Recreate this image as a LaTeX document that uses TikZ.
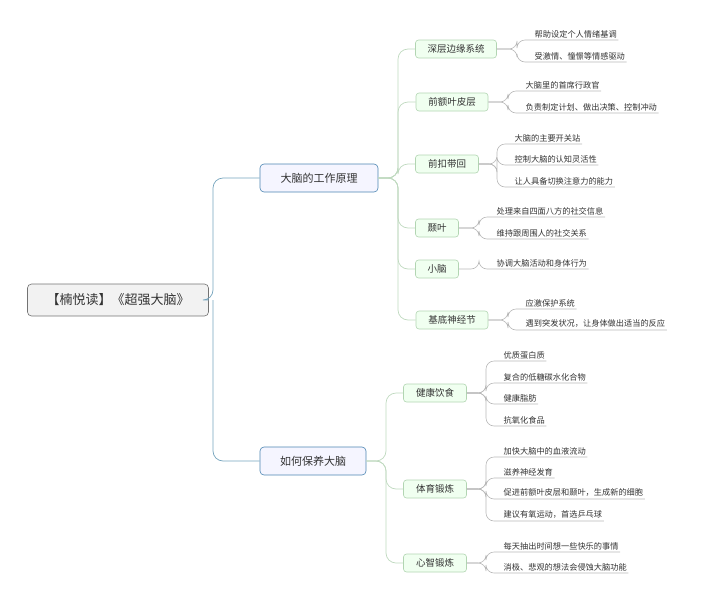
\documentclass[tikz,border=0pt]{standalone}
\usepackage{fontspec}
\setmainfont{Noto Sans CJK SC}
\begin{document}
\begin{tikzpicture}[x=1pt,y=-1pt,
  rootbox/.style={draw=black!55,fill=black!5,rounded corners=4pt,minimum width=181pt,minimum height=32pt,font=\fontsize{13}{15}\selectfont,text=black!80,line width=0.6pt},
  lvone/.style={draw=blue!45!cyan!40!gray,fill=blue!4,rounded corners=4pt,minimum height=28pt,inner xsep=12pt,font=\fontsize{11}{13}\selectfont,text=black!80,line width=0.6pt},
  lvtwo/.style={draw=green!45!black!30,fill=green!6,rounded corners=3pt,minimum height=18pt,inner xsep=8pt,font=\fontsize{9.5}{11}\selectfont,text=black!80,line width=0.6pt},
  leaf/.style={anchor=south west,inner sep=1.5pt,inner ysep=2pt,font=\fontsize{8.2}{10}\selectfont,text=black!80},
  bl/.style={draw=blue!35!cyan!35!gray!80,line width=0.7pt,rounded corners=10pt},
  gl/.style={draw=green!40!black!25,line width=0.7pt,rounded corners=10pt},
  ll/.style={draw=black!28,line width=0.6pt,rounded corners=8pt}]
\useasboundingbox (0,0) rectangle (701,600);
\node[rootbox] (root) at (118,300) {【楠悦读】《超强大脑》};
\node[lvone,minimum width=118pt] (A) at (319,178) {大脑的工作原理};
\node[lvone,minimum width=106pt] (B) at (313,461) {如何保养大脑};
\draw[bl] (root.east) -- (213,300) |- (A.west);
\draw[bl] (213,300) |- (B.west);
% level 2
\node[lvtwo,minimum width=81pt] (a1) at (456,49) {深层边缘系统};
\node[lvtwo,minimum width=72pt] (a2) at (452,102) {前额叶皮层};
\node[lvtwo,minimum width=63pt] (a3) at (447,164) {前扣带回};
\node[lvtwo,minimum width=43pt] (a4) at (437,228) {颞叶};
\node[lvtwo,minimum width=43pt] (a5) at (437,269) {小脑};
\node[lvtwo,minimum width=72pt] (a6) at (452,320) {基底神经节};
\node[lvtwo,minimum width=63pt] (b1) at (435,393) {健康饮食};
\node[lvtwo,minimum width=63pt] (b2) at (435,489) {体育锻炼};
\node[lvtwo,minimum width=63pt] (b3) at (435,563) {心智锻炼};
\foreach \n in {a1,a2,a3,a4,a5,a6} \draw[gl] (A.east) -- (398,178) |- (\n.west);
\foreach \n in {b1,b2,b3} \draw[gl] (B.east) -- (386,461) |- (\n.west);
% leaves
\newcommand{\lf}[5]{% name, parent, branch x, underline y, text
  \node[leaf] (#1) at (#3+16,#4) {#5};
  \draw[ll] (#2.east) -- (#3,0 |- #2.east) |- (#1.south west) -- (#1.south east);}
\lf{l11}{a1}{517}{40}{帮助设定个人情绪基调}
\lf{l12}{a1}{517}{62}{受激情、憧憬等情感驱动}
\lf{l21}{a2}{508}{91}{大脑里的首席行政官}
\lf{l22}{a2}{508}{113}{负责制定计划、做出决策、控制冲动}
\lf{l31}{a3}{497}{144}{大脑的主要开关站}
\lf{l32}{a3}{497}{165}{控制大脑的认知灵活性}
\lf{l33}{a3}{497}{187}{让人具备切换注意力的能力}
\lf{l41}{a4}{479}{217}{处理来自四面八方的社交信息}
\lf{l42}{a4}{479}{239}{维持跟周围人的社交关系}
\lf{l51}{a5}{479}{269}{协调大脑活动和身体行为}
\lf{l61}{a6}{508}{309}{应激保护系统}
\lf{l62}{a6}{508}{330}{遇到突发状况，让身体做出适当的反应}
\lf{m11}{b1}{486}{361}{优质蛋白质}
\lf{m12}{b1}{486}{383}{复合的低糖碳水化合物}
\lf{m13}{b1}{486}{404}{健康脂肪}
\lf{m14}{b1}{486}{426}{抗氧化食品}
\lf{m21}{b2}{486}{457}{加快大脑中的血液流动}
\lf{m22}{b2}{486}{478}{滋养神经发育}
\lf{m23}{b2}{486}{499}{促进前额叶皮层和颞叶，生成新的细胞}
\lf{m24}{b2}{486}{521}{建议有氧运动，首选乒乓球}
\lf{m31}{b3}{486}{552}{每天抽出时间想一些快乐的事情}
\lf{m32}{b3}{486}{573}{消极、悲观的想法会侵蚀大脑功能}
\end{tikzpicture}
\end{document}
